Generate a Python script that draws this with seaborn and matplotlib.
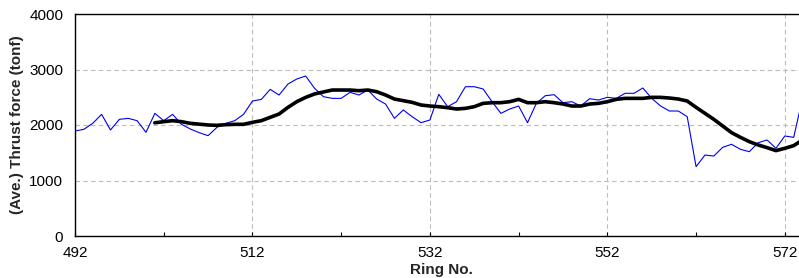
import numpy as np
import pandas as pd
import matplotlib
matplotlib.use("Agg")
import matplotlib.pyplot as plt
import seaborn as sns

# --- data ---
rings = list(range(492, 575))
thrust = [1892, 1922, 2030, 2192, 1910, 2102, 2120, 2078, 1868, 2210,
          2078, 2192, 2012, 1928, 1862, 1808, 1958, 2030, 2078, 2192,
          2432, 2462, 2642, 2540, 2738, 2829, 2883, 2661, 2510, 2480,
          2480, 2589, 2540, 2630, 2468, 2378, 2120, 2270, 2150, 2042,
          2090, 2553, 2330, 2420, 2690, 2690, 2649, 2420, 2210, 2288,
          2342, 2042, 2390, 2528, 2546, 2402, 2420, 2342, 2474, 2450,
          2499, 2480, 2571, 2571, 2667, 2480, 2342, 2252, 2252, 2150,
          1249, 1459, 1441, 1598, 1652, 1562, 1519, 1681, 1730, 1580,
          1802, 1778, 2480]

avg_rings = list(range(501, 575))
thrust_avg = [2040, 2060, 2078, 2060, 2030, 2015, 2000, 1994, 2006, 2012,
              2012, 2048, 2078, 2138, 2198, 2318, 2420, 2498, 2559, 2595,
              2630, 2630, 2630, 2618, 2630, 2600, 2540, 2468, 2438, 2408,
              2360, 2342, 2330, 2312, 2288, 2300, 2330, 2390, 2402, 2402,
              2420, 2462, 2402, 2402, 2420, 2402, 2378, 2342, 2342, 2378,
              2390, 2420, 2462, 2480, 2480, 2480, 2498, 2498, 2486, 2468,
              2432, 2318, 2210, 2102, 1982, 1862, 1778, 1700, 1640, 1592,
              1538, 1580, 1628, 1730]

x_major = [492, 512, 532, 552, 572]
x_minor = [502, 522, 542, 562]
y_ticks = [0, 1000, 2000, 3000, 4000]

raw = pd.DataFrame({"ring": rings, "thrust": thrust})
avg = pd.DataFrame({"ring": avg_rings, "thrust": thrust_avg})

sns.set_theme(style="white")
plt.rcParams["font.family"] = ["Liberation Sans", "DejaVu Sans"]

fig = plt.figure(figsize=(7.99, 2.78), dpi=100)
ax = fig.add_axes([75 / 799, 42 / 278, 1 - 75 / 799 + 0.01, 222 / 278])

sns.lineplot(data=raw, x="ring", y="thrust", ax=ax, color="#0000ee", linewidth=0.8)
sns.lineplot(data=avg, x="ring", y="thrust", ax=ax, color="black", linewidth=2.6)

ax.set_xlim(492, 574.5)
ax.set_ylim(0, 4000)
ax.set_xticks(x_major)
ax.set_xticks(x_minor, minor=True)
ax.set_yticks(y_ticks)

ax.grid(True, which="major", color="#bbbbbb", linestyle=(0, (4, 3)), linewidth=0.8)
for s in ["left", "bottom", "top"]:
    ax.spines[s].set_color("black")
    ax.spines[s].set_linewidth(1.0)
ax.spines["right"].set_visible(False)

ax.tick_params(axis="both", which="both", direction="in", colors="black",
               labelsize=11, length=3, width=0.8)
ax.tick_params(axis="y", pad=8.5, left=False)
ax.tick_params(axis="x", pad=7.5, bottom=True)
ax.tick_params(axis="x", which="minor", bottom=True, length=3)

ax.set_xlabel("Ring No.", fontsize=11, fontweight="bold", labelpad=2)
ax.set_ylabel("(Ave.) Thrust force (tonf)", fontsize=11, fontweight="bold", labelpad=4)

fig.savefig("out.png", dpi=100)
